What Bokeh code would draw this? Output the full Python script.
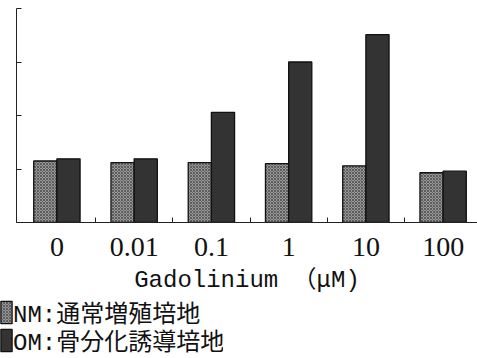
from bokeh.plotting import figure
from bokeh.layouts import column
from bokeh.models import ColumnDataSource, FixedTicker, Range1d, Legend, LegendItem
from bokeh.transform import dodge
from bokeh.embed import file_html
from bokeh.resources import INLINE

# ---- data ----
categories = ["0", "0.01", "0.1", "1", "10", "100"]
nm_values = [1.15, 1.12, 1.12, 1.10, 1.06, 0.93]
om_values = [1.19, 1.19, 2.06, 3.00, 3.51, 0.96]
y_ticks = [0, 1, 2, 3, 4]
series_labels = ["NM:通常増殖培地", "OM:骨分化誘導培地"]
x_title = "Gadolinium （μM)"

NM_STYLE = dict(fill_color="#999999", line_color="#111111", line_width=1.3,
                hatch_pattern="x", hatch_scale=3, hatch_color="#4d4d4d", hatch_weight=0.8)
OM_STYLE = dict(fill_color="#333333", line_color="#111111", line_width=1.3)

idx = list(range(len(categories)))
src = ColumnDataSource(dict(x=idx, nm=nm_values, om=om_values))

p = figure(width=477, height=358, output_backend="svg", toolbar_location=None,
           x_range=Range1d(-0.523, 5.445), y_range=Range1d(0, 4),
           min_border_left=16, min_border_right=0, min_border_top=8,
           min_border_bottom=136)
p.outline_line_color = None
p.grid.visible = False

r_nm = p.vbar(x=dodge("x", -0.15, range=p.x_range), top="nm", width=0.3, source=src, **NM_STYLE)
r_om = p.vbar(x=dodge("x", 0.15, range=p.x_range), top="om", width=0.3, source=src, **OM_STYLE)

# x axis
xa = p.xaxis[0]
xa.ticker = FixedTicker(ticks=idx, minor_ticks=[i + 0.5 for i in idx[:-1]])
xa.major_label_overrides = {i: c for i, c in zip(idx, categories)}
xa.major_tick_in = 0
xa.major_tick_out = 0
xa.minor_tick_in = 5
xa.minor_tick_out = 0
xa.minor_tick_line_color = "#222222"
xa.axis_line_color = "#222222"
xa.major_label_text_font = "Liberation Serif"
xa.major_label_text_font_size = "28px"
xa.major_label_text_color = "#111111"
xa.major_label_standoff = 15
xa.axis_label = x_title
xa.axis_label_text_font = "'Liberation Mono', 'Noto Sans CJK JP'"
xa.axis_label_text_font_size = "24px"
xa.axis_label_text_font_style = "normal"
xa.axis_label_text_color = "#111111"
xa.axis_label_standoff = 8

# y axis
ya = p.yaxis[0]
ya.ticker = FixedTicker(ticks=y_ticks)
ya.major_tick_in = 5
ya.major_tick_out = 0
ya.minor_tick_in = 0
ya.minor_tick_out = 0
ya.major_label_overrides = {t: "" for t in y_ticks}
ya.major_label_standoff = 0
ya.axis_line_color = "#222222"
ya.major_tick_line_color = "#222222"

# legend strip (overlapping the empty bottom strip of the chart)
lg = figure(width=240, height=70, output_backend="svg", toolbar_location=None,
            x_axis_type=None, y_axis_type=None,
            x_range=Range1d(1000, 1001), y_range=Range1d(1000, 1001),
            min_border=0, min_border_left=0, min_border_right=0,
            min_border_top=0, min_border_bottom=0)
lg.outline_line_color = None
lg.grid.visible = False
lg.background_fill_alpha = 0
lg.border_fill_alpha = 0
lg.margin = (-70, 0, 0, -17)
# swatch renderers share the data but lie outside this strip's view
l_nm = lg.vbar(x="x", top="nm", width=0.3, source=src, **NM_STYLE)
l_om = lg.vbar(x="x", top="om", width=0.3, source=src, **OM_STYLE)

LEGEND_STYLE = dict(orientation="vertical", border_line_color=None,
                    background_fill_alpha=0, padding=0, margin=0, spacing=0,
                    glyph_width=14, glyph_height=28, label_height=32, label_standoff=0,
                    label_text_font="'Liberation Mono', 'Noto Sans CJK JP'",
                    label_text_font_size="24px", label_text_color="#111111")
leg1 = Legend(items=[LegendItem(label=series_labels[0], renderers=[l_nm])],
              location=(0, 29), **LEGEND_STYLE)
leg2 = Legend(items=[LegendItem(label=series_labels[1], renderers=[l_om])],
              location=(0, 1), **LEGEND_STYLE)
lg.add_layout(leg1)
lg.add_layout(leg2)

page = column(p, lg, spacing=0)
page.styles = {"position": "absolute", "left": "0px", "top": "0px"}

open("out.html", "w").write(file_html(page, INLINE))
